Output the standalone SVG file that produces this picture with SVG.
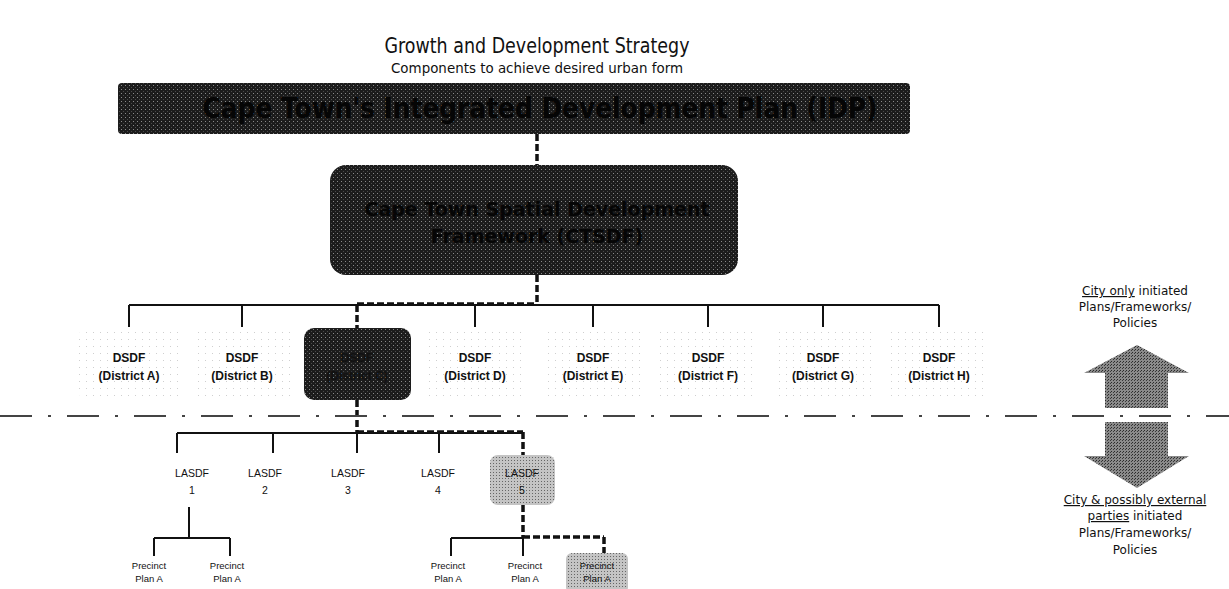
<svg xmlns="http://www.w3.org/2000/svg" width="1229" height="589" viewBox="0 0 1229 589">
<style>
.title{font-family:"DejaVu Sans","Liberation Sans",sans-serif;fill:#111;text-anchor:middle}
.dsdf{font-family:"Liberation Sans","DejaVu Sans",sans-serif;font-weight:bold;font-size:12px;fill:#111;text-anchor:middle}
.small{font-family:"Liberation Sans","DejaVu Sans",sans-serif;font-size:10.5px;fill:#111;text-anchor:middle}
.pre{font-family:"Liberation Sans","DejaVu Sans",sans-serif;font-size:9.5px;fill:#111;text-anchor:middle}
.side{font-family:"DejaVu Sans","Liberation Sans",sans-serif;font-size:12px;fill:#111;text-anchor:middle}
.dark{font-family:"DejaVu Sans","Liberation Sans",sans-serif;font-weight:bold;fill:#050505;text-anchor:middle}
.solid{stroke:#111;stroke-width:2;fill:none}
.dash{stroke:#111;stroke-width:3.5;stroke-dasharray:7 3;fill:none}
.sep{stroke:#444;stroke-width:1.8;stroke-dasharray:32 16 3 16;fill:none}
</style>
<defs>
<pattern id="darkdots" width="4" height="4" patternUnits="userSpaceOnUse">
<rect width="4" height="4" fill="#1c1c1c"/>
<rect x="1" y="1" width="1" height="1" fill="#8a8a8a"/>
<rect x="3" y="3" width="1" height="1" fill="#4a4a4a"/>
</pattern>
<pattern id="greydots" width="3" height="3" patternUnits="userSpaceOnUse">
<rect width="3" height="3" fill="#c4c4c4"/>
<rect x="1" y="1" width="1" height="1" fill="#666"/>
</pattern>
<pattern id="arrowdots" width="3" height="3" patternUnits="userSpaceOnUse">
<rect width="3" height="3" fill="#8a8a8a"/>
<rect x="1" y="1" width="1" height="1" fill="#2a2a2a"/>
<rect x="0" y="2" width="1" height="1" fill="#3a3a3a"/>
</pattern>
<pattern id="faint" width="7" height="7" patternUnits="userSpaceOnUse">
<rect width="7" height="7" fill="#ffffff"/>
<rect x="2" y="3" width="1" height="1" fill="#cfcfcf"/>
</pattern>
</defs>

<g id="title">
<text class="title" x="537" y="53" font-size="22" textLength="305" lengthAdjust="spacingAndGlyphs">Growth and Development Strategy</text>
<text class="title" x="537" y="73" font-size="14" textLength="292" lengthAdjust="spacingAndGlyphs">Components to achieve desired urban form</text>
</g>

<g id="connectors">
<line class="dash" x1="537" y1="134" x2="537" y2="165"/>
<line class="dash" x1="537" y1="275" x2="537" y2="305"/>
<line class="solid" x1="129" y1="305" x2="939" y2="305"/>
<line class="dash" x1="357" y1="304" x2="537" y2="304"/>
<line class="solid" x1="129" y1="305" x2="129" y2="327"/>
<line class="solid" x1="242" y1="305" x2="242" y2="327"/>
<line class="dash" x1="357" y1="305" x2="357" y2="328"/>
<line class="solid" x1="475" y1="305" x2="475" y2="327"/>
<line class="solid" x1="593" y1="305" x2="593" y2="327"/>
<line class="solid" x1="708" y1="305" x2="708" y2="327"/>
<line class="solid" x1="823" y1="305" x2="823" y2="327"/>
<line class="solid" x1="939" y1="305" x2="939" y2="327"/>
<line class="dash" x1="357" y1="400" x2="357" y2="433"/>
<line class="solid" x1="177" y1="433" x2="523" y2="433"/>
<line class="dash" x1="357" y1="432" x2="523" y2="432"/>
<line class="solid" x1="177" y1="433" x2="177" y2="453"/>
<line class="solid" x1="273" y1="433" x2="273" y2="453"/>
<line class="solid" x1="357" y1="433" x2="357" y2="453"/>
<line class="solid" x1="439" y1="433" x2="439" y2="453"/>
<line class="dash" x1="523" y1="432" x2="523" y2="455"/>
<line class="solid" x1="189" y1="507" x2="189" y2="538"/>
<line class="solid" x1="154" y1="538" x2="230" y2="538"/>
<line class="solid" x1="154" y1="538" x2="154" y2="556"/>
<line class="solid" x1="230" y1="538" x2="230" y2="556"/>
<line class="dash" x1="523" y1="505" x2="523" y2="538"/>
<line class="solid" x1="451" y1="538" x2="523" y2="538"/>
<line class="dash" x1="523" y1="537" x2="604" y2="537"/>
<line class="dash" x1="604" y1="537" x2="604" y2="554"/>
<line class="solid" x1="451" y1="538" x2="451" y2="556"/>
<line class="solid" x1="523" y1="538" x2="523" y2="556"/>
<line class="sep" x1="0" y1="416" x2="1229" y2="416"/>
</g>

<g id="idp">
<rect x="118" y="83" width="792" height="51" rx="4" fill="url(#darkdots)"/>
<text class="dark" x="540" y="118" font-size="29" textLength="675" lengthAdjust="spacingAndGlyphs">Cape Town's Integrated Development Plan (IDP)</text>
</g>

<g id="sdf">
<rect x="330" y="165" width="408" height="110" rx="16" fill="url(#darkdots)"/>
<text class="dark" x="537" y="216" font-size="19">Cape Town Spatial Development</text>
<text class="dark" x="537" y="243" font-size="19">Framework (CTSDF)</text>
</g>

<g id="dsdf-a">
<rect x="78" y="328" width="102" height="72" rx="10" fill="url(#faint)"/>
<text class="dsdf" x="129" y="362">DSDF</text>
<text class="dsdf" x="129" y="380">(District A)</text>
</g>
<g id="dsdf-b">
<rect x="192" y="328" width="100" height="72" rx="10" fill="url(#faint)"/>
<text class="dsdf" x="242" y="362">DSDF</text>
<text class="dsdf" x="242" y="380">(District B)</text>
</g>
<g id="dsdf-c">
<rect x="304" y="328" width="107" height="72" rx="10" fill="url(#darkdots)"/>
<text class="dsdf" x="357" y="362" fill="#050505">DSDF</text>
<text class="dsdf" x="357" y="380" fill="#050505">(District C)</text>
</g>
<g id="dsdf-d">
<rect x="425" y="328" width="100" height="72" rx="10" fill="url(#faint)"/>
<text class="dsdf" x="475" y="362">DSDF</text>
<text class="dsdf" x="475" y="380">(District D)</text>
</g>
<g id="dsdf-e">
<rect x="543" y="328" width="100" height="72" rx="10" fill="url(#faint)"/>
<text class="dsdf" x="593" y="362">DSDF</text>
<text class="dsdf" x="593" y="380">(District E)</text>
</g>
<g id="dsdf-f">
<rect x="658" y="328" width="100" height="72" rx="10" fill="url(#faint)"/>
<text class="dsdf" x="708" y="362">DSDF</text>
<text class="dsdf" x="708" y="380">(District F)</text>
</g>
<g id="dsdf-g">
<rect x="773" y="328" width="100" height="72" rx="10" fill="url(#faint)"/>
<text class="dsdf" x="823" y="362">DSDF</text>
<text class="dsdf" x="823" y="380">(District G)</text>
</g>
<g id="dsdf-h">
<rect x="889" y="328" width="100" height="72" rx="10" fill="url(#faint)"/>
<text class="dsdf" x="939" y="362">DSDF</text>
<text class="dsdf" x="939" y="380">(District H)</text>
</g>

<g id="lasdf-1">
<text class="small" x="192" y="477">LASDF</text>
<text class="small" x="192" y="494">1</text>
</g>
<g id="lasdf-2">
<text class="small" x="265" y="477">LASDF</text>
<text class="small" x="265" y="494">2</text>
</g>
<g id="lasdf-3">
<text class="small" x="348" y="477">LASDF</text>
<text class="small" x="348" y="494">3</text>
</g>
<g id="lasdf-4">
<text class="small" x="438" y="477">LASDF</text>
<text class="small" x="438" y="494">4</text>
</g>
<g id="lasdf-5">
<rect x="490" y="455" width="65" height="50" rx="8" fill="url(#greydots)"/>
<text class="small" x="522" y="477">LASDF</text>
<text class="small" x="522" y="494">5</text>
</g>

<g id="precinct-1a">
<text class="pre" x="149" y="569">Precinct</text>
<text class="pre" x="149" y="582">Plan A</text>
</g>
<g id="precinct-1b">
<text class="pre" x="227" y="569">Precinct</text>
<text class="pre" x="227" y="582">Plan A</text>
</g>
<g id="precinct-5a">
<text class="pre" x="448" y="569">Precinct</text>
<text class="pre" x="448" y="582">Plan A</text>
</g>
<g id="precinct-5b">
<text class="pre" x="525" y="569">Precinct</text>
<text class="pre" x="525" y="582">Plan A</text>
</g>
<g id="precinct-5c">
<rect x="566" y="553" width="62" height="40" rx="6" fill="url(#greydots)"/>
<text class="pre" x="597" y="569">Precinct</text>
<text class="pre" x="597" y="582">Plan A</text>
</g>

<g id="legend">
<polygon points="1137,345 1189,373 1168,373 1168,408 1105,408 1105,373 1084,373" fill="url(#arrowdots)"/>
<polygon points="1105,422 1168,422 1168,456 1189,456 1137,488 1084,456 1105,456" fill="url(#arrowdots)"/>
<text class="side" x="1135" y="295"><tspan text-decoration="underline">City only</tspan> initiated</text>
<text class="side" x="1135" y="311">Plans/Frameworks/</text>
<text class="side" x="1135" y="327">Policies</text>
<text class="side" x="1135" y="504" text-decoration="underline">City &amp; possibly external</text>
<text class="side" x="1135" y="520"><tspan text-decoration="underline">parties</tspan> initiated</text>
<text class="side" x="1135" y="537">Plans/Frameworks/</text>
<text class="side" x="1135" y="554">Policies</text>
</g>
</svg>
